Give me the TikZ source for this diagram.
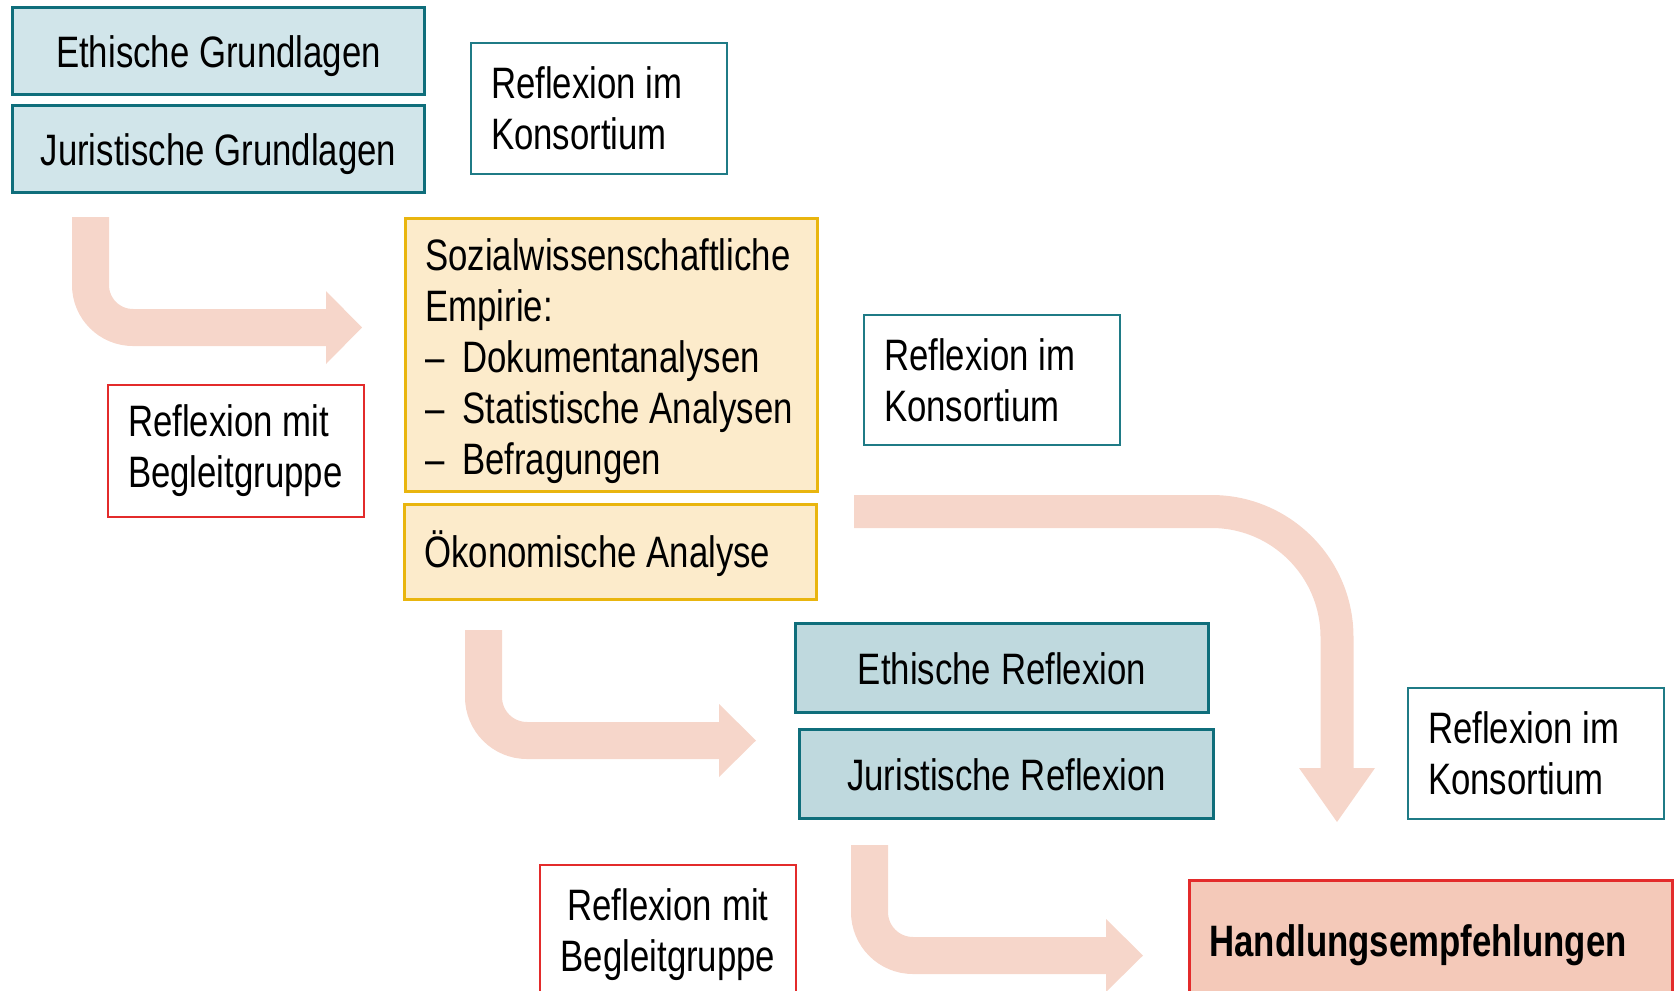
\documentclass[tikz,border=0pt]{standalone}
\usepackage{fontspec}
\setmainfont{Liberation Sans}[FakeStretch=0.79,WordSpace=0.8]
\definecolor{blueA}{HTML}{D1E5EA}
\definecolor{blueB}{HTML}{BFD9DE}
\definecolor{tealB}{HTML}{0F6E7B}
\definecolor{tealK}{HTML}{1F7B86}
\definecolor{yelF}{HTML}{FCEBCB}
\definecolor{yelD}{HTML}{E9B50E}
\definecolor{redD}{HTML}{E32B2B}
\definecolor{handF}{HTML}{F4C9B9}
\definecolor{arrowC}{HTML}{F6D6CA}
\begin{document}
\begin{tikzpicture}[x=1pt,y=-1pt,
  box/.style={rectangle, anchor=north west, inner sep=0pt, font=\fontsize{44}{51}\selectfont,
    execute at begin node={\spaceskip=9.8pt plus 3pt minus 2pt\relax\xspaceskip=9.8pt\relax}},
  bluebox/.style={box, fill=#1, draw=tealB, line width=3pt, text height=32pt, text depth=0pt, align=center},
  konsbox/.style={box, fill=white, draw=tealK, line width=2pt, align=left, inner xsep=20pt, text width=216pt, minimum width=256pt},
  yelbox/.style={box, fill=yelF, draw=yelD, line width=2.5pt, align=left, inner xsep=20pt, text width=372pt, minimum width=412pt},
  redbox/.style={box, fill=white, draw=redD, line width=2pt, inner xsep=20pt, text width=216pt, minimum width=256pt},
  handbox/.style={box, fill=handF, draw=redD, line width=3pt, align=left, inner xsep=20pt, text width=443pt, minimum width=483pt, text height=32pt, text depth=0pt, font=\fontsize{44}{51}\selectfont\bfseries},
  shaft/.style={draw=arrowC, line cap=butt},
  headtip/.style={fill=arrowC}
]
\useasboundingbox (0,0) rectangle (1674,991);
\clip (0,0) rectangle (1674,991);

% block arrows
\coordinate (a1s) at (90.5,217);   \coordinate (a1e) at (327,327.5);
\draw[shaft, line width=37pt, rounded corners=42.5pt] (a1s) |- (a1e);
\fill[headtip] (326,291) -- (362,327.5) -- (326,364) -- cycle;

\coordinate (a2s) at (483.5,630);  \coordinate (a2e) at (720,740.5);
\draw[shaft, line width=37pt, rounded corners=43.5pt] (a2s) |- (a2e);
\fill[headtip] (719,704) -- (756,740.5) -- (719,777) -- cycle;

\coordinate (a3s) at (869.5,845);  \coordinate (a3e) at (1107,955.5);
\draw[shaft, line width=37pt, rounded corners=43.5pt] (a3s) |- (a3e);
\fill[headtip] (1106,919) -- (1143,955.5) -- (1106,992) -- cycle;

\coordinate (a4s) at (854,511.5);  \coordinate (a4e) at (1337,769);
\draw[shaft, line width=33pt, rounded corners=125.5pt] (a4s) -| (a4e);
\fill[headtip] (1299,768) -- (1375,768) -- (1337,822) -- cycle;

% boxes
\node[bluebox=blueA, minimum width=412pt, minimum height=87pt] (eg) at (11,6) {Ethische Grundlagen};
\node[bluebox=blueA, minimum width=412pt, minimum height=87pt] (jg) at (11,104) {Juristische Grundlagen};
\node[konsbox, minimum height=131pt] (k1) at (470,42) {Reflexion im\\Konsortium};
\node[yelbox, minimum height=273pt] (soz) at (404,217) {\rule{0pt}{44pt}\mbox{Sozialwissenschaftliche}\\Empirie:\\\makebox[37pt][l]{–}\mbox{Dokumentanalysen}\\\makebox[37pt][l]{–}\mbox{Statistische Analysen}\\\makebox[37pt][l]{–}\mbox{Befragungen}};
\node[yelbox, minimum height=95pt, text height=32pt, text depth=0pt] (oek) at (403,503) {Ökonomische Analyse};
\node[redbox, align=left, minimum height=132pt] (b1) at (107,384) {Reflexion mit\\Begleitgruppe};
\node[konsbox, minimum height=130pt] (k2) at (863,314) {Reflexion im\\Konsortium};
\node[bluebox=blueB, minimum width=413pt, minimum height=89pt] (er) at (794,622) {Ethische Reflexion};
\node[bluebox=blueB, minimum width=414pt, minimum height=89pt] (jr) at (798,728) {Juristische Reflexion};
\node[konsbox, minimum height=131pt] (k3) at (1407,687) {Reflexion im\\Konsortium};
\node[redbox, align=center, minimum height=139pt] (b2) at (539,864) {Reflexion mit\\Begleitgruppe};
\node[handbox, minimum height=120pt] (hand) at (1188,879) {Handlungsempfehlungen};
\end{tikzpicture}
\end{document}
